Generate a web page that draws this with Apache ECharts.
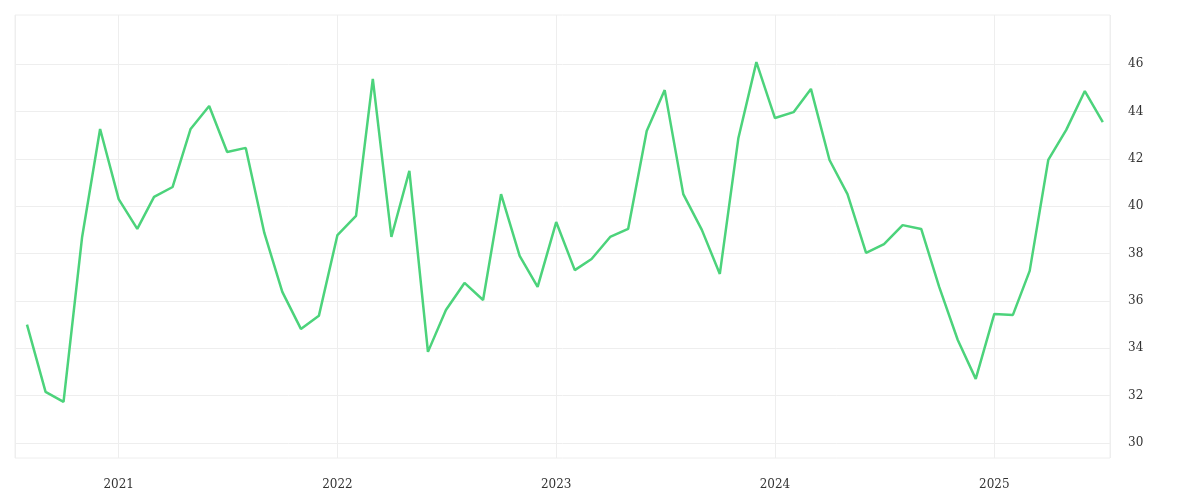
<!DOCTYPE html>
<html><head><meta charset="utf-8">
<script src="https://cdn.jsdelivr.net/npm/echarts@6/dist/echarts.min.js"></script>
<style>html,body{margin:0;background:#fff}#c{width:1200px;height:500px}</style>
</head><body><div id="c"></div>
<script>
const startMonth = '2020-08';
const yTicks = [30,32,34,36,38,40,42,44,46];
const values = [35.0,32.16,31.74,38.7,43.26,40.3,39.04,40.39,40.81,43.26,44.23,42.29,42.46,38.87,36.38,34.82,35.37,38.78,39.59,45.37,38.7,41.49,33.85,35.62,36.76,36.04,40.51,37.9,36.59,39.33,37.3,37.77,38.7,39.04,43.17,44.9,40.51,39.0,37.14,42.88,46.08,43.72,43.97,44.95,41.95,40.51,38.03,38.4,39.2,39.04,36.59,34.35,32.71,35.45,35.41,37.27,41.95,43.22,44.86,43.55];
const data = values.map((v,i)=>{const d=new Date(Date.UTC(2020,7+i,1));return [d.getTime(),v];});
const chart = echarts.init(document.getElementById('c'));
chart.setOption({
  animation:false,
  grid:{left:15,right:90,top:15,bottom:42,show:true,borderColor:'#eeeeee',borderWidth:1},
  xAxis:{type:'time',min:Date.UTC(2020,6,12),max:Date.UTC(2025,6,13),
    axisLine:{show:false},axisTick:{show:false},
    splitLine:{show:true,lineStyle:{color:'#eeeeee'}},
    axisLabel:{color:'#333',fontFamily:'DejaVu Serif',fontSize:12,margin:21,
      formatter:v=>{const d=new Date(v);return (d.getUTCMonth()===0)?String(d.getUTCFullYear()):'';}},
    interval:365.25*86400000, minInterval:365*86400000},
  yAxis:{type:'value',position:'right',min:29.37,max:48.07,
    axisLine:{show:false},axisTick:{show:false,customValues:yTicks},
    splitLine:{lineStyle:{color:'#eeeeee'}},
    axisLabel:{color:'#333',fontFamily:'DejaVu Serif',fontSize:12,margin:18,customValues:yTicks}},
  series:[{type:'line',data:data,showSymbol:false,lineStyle:{color:'#4cd37b',width:2.5},itemStyle:{color:'#4cd37b'}}]
});
</script></body></html>
